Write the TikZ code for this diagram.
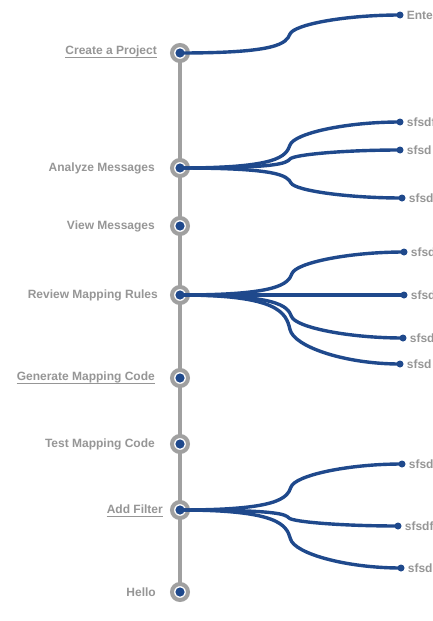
\documentclass[tikz,border=0pt]{standalone}
\usepackage{fontspec}
\setmainfont{Liberation Sans}
\usetikzlibrary{calc}
\definecolor{tblue}{RGB}{31,73,140}
\definecolor{tgray}{RGB}{160,160,160}
\definecolor{ttext}{RGB}{150,150,150}
\newcommand{\branchto}[2]{%
  \coordinate (bm) at ($(#1.center)!0.5!(#2.center)$);
  \draw[branch] (#1.center) .. controls ($(#1.center)+(98,0)$) and ($(bm)!0.5!(bm|-#1.center)+(-4,0)$) .. (bm)
     .. controls ($(bm)!0.5!(bm|-#2.center)+(4,0)$) and ($(#2.center)+(-55,0)$) .. (#2.center);}
\begin{document}
\begin{tikzpicture}[x=1pt,y=-1pt,
  spine/.style={draw=tgray, line width=4pt},
  stepnode/.style={circle, draw=tgray, line width=4pt, fill=white, minimum size=16pt, inner sep=0pt,
    path picture={\fill[tblue] (path picture bounding box.center) circle (4.6pt);}},
  leafdot/.style={circle, fill=tblue, minimum size=7pt, inner sep=0pt},
  branch/.style={draw=tblue, line width=3.4pt, line cap=round},
  steplab/.style={anchor=base east, inner sep=0pt, text=ttext, font=\fontsize{12pt}{14pt}\selectfont\bfseries},
  leaflab/.style={text=ttext, font=\fontsize{12pt}{14pt}\selectfont\bfseries, inner sep=0pt},
  ul/.style={draw=ttext, line width=0.9pt}
]
\useasboundingbox (0,0) rectangle (433,621);
\clip (0,0) rectangle (433,621);
\fill[white] (0,0) rectangle (433,621);

\coordinate (p1) at (180,53);
\coordinate (p2) at (180,168);
\coordinate (p3) at (180,226);
\coordinate (p4) at (180,295);
\coordinate (p5) at (180,378);
\coordinate (p6) at (180,444);
\coordinate (p7) at (180,510);
\coordinate (p8) at (180,592);
\draw[spine] (p1) -- (p8);

\node[stepnode] (c1) at (p1) {};
\node[stepnode] (c2) at (p2) {};
\node[stepnode] (c3) at (p3) {};
\node[stepnode] (c4) at (p4) {};
\node[stepnode] (c5) at (p5) {};
\node[stepnode] (c6) at (p6) {};
\node[stepnode] (c7) at (p7) {};
\node[stepnode] (c8) at (p8) {};

\node[steplab] (t1) at (157,54) {Create a Project};
\node[steplab] (t2) at (155,171) {Analyze Messages};
\node[steplab] (t3) at (155,229) {View Messages};
\node[steplab] (t4) at (158,298) {Review Mapping Rules};
\node[steplab] (t5) at (155,380) {Generate Mapping Code};
\node[steplab] (t6) at (155,447) {Test Mapping Code};
\node[steplab] (t7) at (163,513) {Add Filter};
\node[steplab] (t8) at (156,596) {Hello};
\draw[ul] ([yshift=-3pt]t1.base west) -- ([yshift=-3pt]t1.base east);
\draw[ul] ([yshift=-3pt]t5.base west) -- ([yshift=-3pt]t5.base east);
\draw[ul] ([yshift=-3pt]t7.base west) -- ([yshift=-3pt]t7.base east);

\node[leafdot, label={[leaflab,label distance=3pt]right:Ente}] (a1) at (400,15) {};
\node[leafdot, label={[leaflab,label distance=3pt]right:sfsdf}] (b1) at (400,122) {};
\node[leafdot, label={[leaflab,label distance=3pt]right:sfsd}] (b2) at (400,150) {};
\node[leafdot, label={[leaflab,label distance=3pt]right:sfsd}] (b3) at (402,198) {};
\node[leafdot, label={[leaflab,label distance=3pt]right:sfsd}] (d1) at (404,252) {};
\node[leafdot, label={[leaflab,label distance=3pt]right:sfsd}] (d2) at (404,295) {};
\node[leafdot, label={[leaflab,label distance=3pt]right:sfsd}] (d3) at (403,338) {};
\node[leafdot, label={[leaflab,label distance=3pt]right:sfsd}] (d4) at (400,364) {};
\node[leafdot, label={[leaflab,label distance=3pt]right:sfsd}] (g1) at (402,464) {};
\node[leafdot, label={[leaflab,label distance=3pt]right:sfsdf}] (g2) at (398,526) {};
\node[leafdot, label={[leaflab,label distance=3pt]right:sfsd}] (g3) at (401,568) {};

\branchto{c1}{a1}
\branchto{c2}{b1}
\branchto{c2}{b2}
\branchto{c2}{b3}
\branchto{c4}{d1}
\branchto{c4}{d2}
\branchto{c4}{d3}
\branchto{c4}{d4}
\branchto{c7}{g1}
\branchto{c7}{g2}
\branchto{c7}{g3}
\end{tikzpicture}
\end{document}
